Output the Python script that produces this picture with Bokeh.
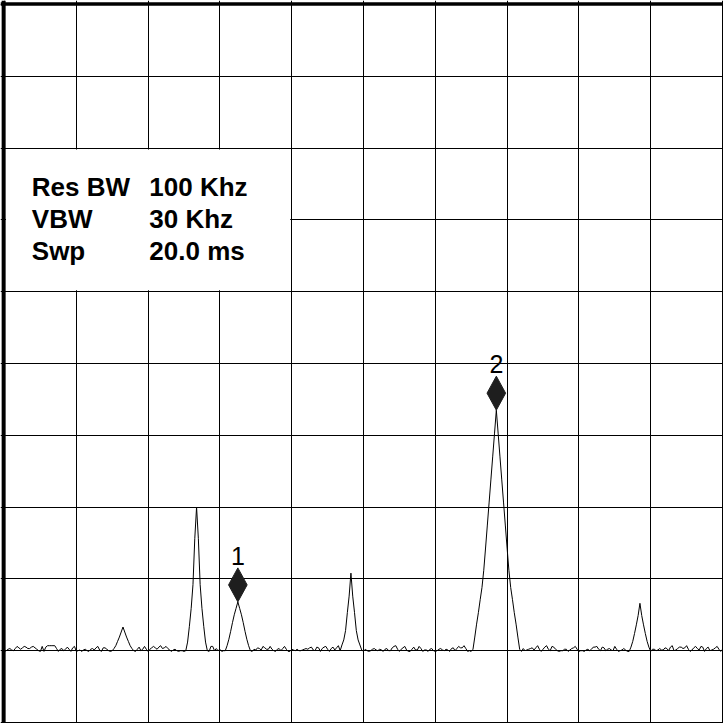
import numpy as np
from bokeh.plotting import figure
from bokeh.models import Range1d, FixedTicker, Span
from bokeh.core.properties import value
from bokeh.embed import file_html
from bokeh.resources import INLINE

# ---------------- data ----------------
# sweep: 401 points across 10 horizontal divisions
sweep_start_div = 0.0
sweep_stop_div = 10.0
sweep_points = 401

# measured trace level (dBm) at each sweep point
trace_dbm = [
    -90.1, -90.0, -89.8, -89.7, -89.9, -90.0, -89.7, -89.4, -89.6, -89.8, -89.6, -89.4, -89.5, -89.7, -89.7, -89.5, -89.4, -89.6, -89.8, -90.0,
    -90.1, -89.4, -90.1, -89.5, -89.3, -89.3, -89.3, -89.3, -89.3, -89.7, -90.1, -89.8, -89.7, -90.0, -89.8, -89.5, -89.8, -90.1, -89.6, -89.4,
    -90.1, -90.0, -89.9, -90.1, -89.9, -89.8, -90.0, -90.1, -89.8, -89.7, -89.9, -89.6, -89.4, -89.9, -90.1, -89.6, -89.6, -89.8, -90.0, -90.1,
    -90.0, -89.7, -89.3, -88.7, -88.1, -87.4, -86.7, -87.4, -88.1, -88.7, -89.3, -89.7, -90.0, -90.1, -89.8, -89.5, -90.0, -89.8, -89.4, -89.8,
    -90.1, -89.8, -89.6, -89.4, -89.6, -89.8, -89.5, -89.3, -89.7, -89.6, -89.4, -89.7, -89.9, -90.1, -89.9, -89.8, -90.0, -90.1, -90.0, -90.0,
    -90.1, -90.0, -88.8, -86.6, -84.1, -80.8, -74.4, -70.0, -74.4, -80.8, -84.1, -86.6, -88.8, -90.0, -90.1, -89.4, -89.4, -90.0, -89.7, -90.0,
    -89.8, -90.1, -90.0, -90.0, -89.3, -88.4, -87.3, -86.1, -85.0, -84.1, -83.2, -84.1, -85.0, -86.1, -87.3, -88.4, -89.3, -90.0, -90.1, -89.8,
    -89.9, -89.6, -89.7, -89.9, -89.4, -89.6, -89.8, -89.8, -89.4, -89.8, -90.0, -90.1, -89.8, -89.7, -90.0, -89.7, -89.4, -89.8, -90.1, -90.1,
    -89.8, -89.9, -90.0, -89.8, -90.0, -90.0, -89.9, -89.8, -89.7, -89.8, -89.6, -89.5, -89.9, -90.0, -89.5, -89.6, -90.1, -89.7, -89.5, -89.4,
    -89.8, -90.1, -89.7, -89.5, -89.9, -89.6, -89.3, -90.0, -89.2, -88.5, -87.2, -84.7, -82.4, -79.2, -82.4, -84.7, -87.2, -88.5, -89.2, -89.9,
    -90.1, -89.8, -90.0, -90.1, -90.0, -89.8, -89.7, -89.9, -90.0, -89.8, -89.9, -90.1, -89.8, -89.7, -90.0, -90.0, -89.6, -89.4, -89.3, -89.8,
    -90.1, -89.8, -89.6, -89.4, -89.9, -90.1, -90.1, -89.8, -89.5, -89.9, -89.9, -89.4, -89.7, -90.1, -89.9, -89.9, -90.1, -89.8, -89.7, -90.0,
    -90.1, -90.0, -89.8, -89.7, -89.9, -90.0, -89.8, -89.9, -90.1, -89.7, -89.6, -90.0, -89.7, -89.4, -89.6, -89.6, -89.3, -89.7, -90.1, -90.0,
    -90.1, -89.8, -88.1, -86.3, -84.7, -82.9, -81.2, -78.8, -75.7, -72.5, -69.3, -66.1, -62.9, -59.7, -56.5, -59.7, -62.9, -66.1, -69.3, -72.5,
    -75.7, -78.8, -81.2, -82.9, -84.7, -86.3, -88.1, -89.8, -90.1, -89.7, -90.0, -89.9, -89.8, -89.7, -89.6, -89.9, -89.6, -89.3, -89.8, -90.1,
    -89.8, -89.5, -89.3, -89.8, -90.0, -89.4, -89.5, -89.8, -90.0, -90.1, -90.0, -90.0, -89.8, -89.8, -90.1, -89.9, -89.7, -89.6, -89.4, -89.8,
    -90.1, -90.0, -90.0, -90.1, -89.9, -89.8, -90.0, -89.8, -89.5, -89.5, -89.4, -89.8, -90.0, -89.5, -89.6, -90.0, -89.8, -89.7, -89.9, -90.0,
    -89.4, -89.8, -90.1, -90.0, -89.9, -89.7, -89.9, -90.1, -90.1, -89.5, -88.7, -87.6, -86.4, -85.1, -83.4, -85.1, -86.4, -87.6, -88.7, -89.5,
    -90.1, -89.8, -89.8, -90.0, -89.9, -89.7, -89.9, -89.9, -89.6, -89.7, -90.0, -89.5, -89.3, -90.0, -89.9, -89.7, -89.5, -89.5, -89.7, -89.6,
    -89.3, -89.8, -90.1, -89.9, -89.6, -89.4, -89.7, -89.9, -89.4, -89.5, -90.1, -89.7, -89.5, -90.0, -89.9, -89.8, -89.6, -89.4, -89.8, -90.1,
    -89.8,
]

# markers sit on these sweep points
marker_index = [130, 274]
marker_names = ["1", "2"]

# settings box
info_keys = ["Res BW", "VBW", "Swp"]
info_values = ["100 Khz", "30 Khz", "20.0 ms"]

# graticule
freq_gridlines = [0, 1, 2, 3, 4, 5, 6, 7, 8, 9, 10]
level_gridlines = [-100, -90, -80, -70, -60, -50, -40, -30, -20, -10, 0]

# ---------------- layout constants ----------------
W = H = 723
PX_DIV = 71.8          # pixels per horizontal division
PX_DB = 7.18           # pixels per dB (10 dB / division)

freq = np.linspace(sweep_start_div, sweep_stop_div, sweep_points)
level = np.array(trace_dbm)

p = figure(
    width=W, height=H,
    output_backend="svg", toolbar_location=None,
    x_range=Range1d(0 - 4 / PX_DIV, 10 + 1 / PX_DIV),
    y_range=Range1d(-100 - 1 / PX_DB, 0 + 4 / PX_DB),
    x_axis_location=None, y_axis_location=None,
    min_border=0,
)
p.outline_line_color = None
p.background_fill_color = "white"
p.border_fill_color = "white"

p.xgrid.ticker = FixedTicker(ticks=freq_gridlines)
p.ygrid.ticker = FixedTicker(ticks=level_gridlines)
for g in (p.xgrid, p.ygrid):
    g.grid_line_color = "black"
    g.grid_line_alpha = 1.0
    g.grid_line_width = 1

# settings box (blanks the graticule inside it)
box_left, box_right, box_bottom, box_top = 0, 4, -40, -20
inset_x, inset_y = 1.5 / PX_DIV, 1.5 / PX_DB
p.quad(left=[box_left + inset_x], right=[box_right - inset_x],
       bottom=[box_bottom + inset_y], top=[box_top - inset_y],
       fill_color="white", line_color=None)

row_y = [box_top - 5.35 - 4.46 * i for i in range(len(info_keys))]
p.text(x=[box_left + 0.380] * len(info_keys), y=row_y, text=info_keys,
       text_font=value("Liberation Sans"), text_font_style="bold",
       text_font_size="26px", text_color="black",
       text_align="left", text_baseline="alphabetic")
p.text(x=[box_left + 2.017] * len(info_values), y=row_y, text=info_values,
       text_font=value("Liberation Sans"), text_font_style="bold",
       text_font_size="26px", text_color="black",
       text_align="left", text_baseline="alphabetic")

# trace
p.line(freq, level, line_color="black", line_width=1)

# markers: diamond with bottom tip on the trace point, number above
mx = [float(freq[i]) for i in marker_index]
my = [float(level[i]) for i in marker_index]
hw = 9.3 / PX_DIV
hh = 17.0 / PX_DB
xs = [[x, x + hw, x, x - hw] for x in mx]
ys = [[y, y + hh, y + 2 * hh, y + hh] for y in my]
p.patches(xs, ys, fill_color="#1e1e1e", line_color="#1e1e1e", line_width=1)
p.text(x=mx, y=[y + 46.0 / PX_DB for y in my], text=marker_names,
       text_font=value("Liberation Sans"), text_font_size="25px",
       text_color="black", text_align="center", text_baseline="alphabetic")

# heavy left and top border of the display
p.add_layout(Span(location=-0.012, dimension="height", line_color="black", line_width=4))
p.add_layout(Span(location=0.07, dimension="width", line_color="black", line_width=3.5))

open("out.html", "w").write(file_html(p, INLINE))
